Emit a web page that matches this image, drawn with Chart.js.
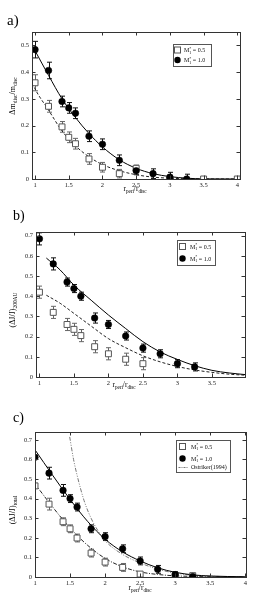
<!DOCTYPE html>
<html>
<head>
<meta charset="utf-8">
<title>Disc mass and angular momentum loss vs pericentre</title>
<script src="https://cdn.jsdelivr.net/npm/chart.js@4.4.1/dist/chart.umd.min.js"></script>
<style>
    html, body { margin: 0; padding: 0; background: #fff; }
    body { width: 277px; height: 609px; position: relative; overflow: hidden; }
    canvas { position: absolute; left: 0; }
</style>
</head>
<body>
<canvas id="chartA" width="277" height="200" style="top:0px"></canvas>
<canvas id="chartB" width="277" height="200" style="top:200px"></canvas>
<canvas id="chartC" width="277" height="209" style="top:400px"></canvas>
<script>
// ---- Data ----
const periX = [1, 1.2, 1.4, 1.5, 1.6, 1.8, 2, 2.25, 2.5, 2.75, 3, 3.25];

// a) disc mass loss
const massHeavyY   = [0.484, 0.406, 0.290, 0.266, 0.246, 0.160, 0.130, 0.070, 0.031, 0.020, 0.007, 0.000];
const massHeavyErr = [0.031, 0.031, 0.020, 0.020, 0.020, 0.020, 0.020, 0.020, 0.015, 0.018, 0.018, 0.018];
const massLightX   = [1, 1.2, 1.4, 1.5, 1.6, 1.8, 2, 2.25, 2.5, 3, 3.5, 4];
const massLightY   = [0.360, 0.272, 0.195, 0.156, 0.132, 0.075, 0.044, 0.020, 0.040, 0.000, 0.000, 0.000];
const massLightErr = [0.030, 0.022, 0.020, 0.020, 0.020, 0.020, 0.018, 0.016, 0.012, 0.008, 0.005, 0.005];
const massFitX        = [1, 1.2, 1.4, 1.6, 1.8, 2, 2.25, 2.5, 2.75, 3, 3.25, 3.5, 4];
const massFitHeavy    = [0.480, 0.388, 0.300, 0.230, 0.170, 0.120, 0.072, 0.040, 0.020, 0.009, 0.003, 0.0005, 0.000];
const massFitLightX   = [0.96, 1, 1.2, 1.4, 1.6, 1.8, 2, 2.25, 2.5, 2.75, 3, 3.5, 4];
const massFitLight    = [0.360, 0.337, 0.258, 0.180, 0.124, 0.083, 0.054, 0.031, 0.016, 0.007, 0.003, 0.000, 0.000];

// b) angular momentum loss inside 200 AU
const j200HeavyY   = [0.684, 0.560, 0.470, 0.438, 0.400, 0.292, 0.260, 0.203, 0.143, 0.115, 0.066, 0.050];
const j200HeavyErr = [0.030, 0.030, 0.020, 0.020, 0.020, 0.025, 0.020, 0.020, 0.020, 0.020, 0.020, 0.020];
const j200LightX   = [1, 1.2, 1.4, 1.5, 1.6, 1.8, 2, 2.25, 2.5];
const j200LightY   = [0.420, 0.320, 0.260, 0.236, 0.205, 0.150, 0.115, 0.088, 0.066];
const j200LightErr = [0.030, 0.030, 0.030, 0.030, 0.030, 0.030, 0.030, 0.030, 0.030];
const j200FitX     = [1.1, 1.3, 1.5, 1.75, 2, 2.25, 2.5, 2.75, 3, 3.25, 3.5, 3.75, 3.98];
const j200FitHeavy = [0.589, 0.530, 0.455, 0.380, 0.307, 0.240, 0.175, 0.124, 0.087, 0.056, 0.033, 0.020, 0.012];
const j200FitLight = [0.405, 0.365, 0.315, 0.252, 0.190, 0.145, 0.105, 0.075, 0.052, 0.035, 0.023, 0.014, 0.009];

// c) total angular momentum loss
const jTotHeavyY   = [0.611, 0.530, 0.442, 0.400, 0.357, 0.246, 0.206, 0.144, 0.082, 0.039, 0.012, 0.002];
const jTotHeavyErr = [0.010, 0.030, 0.030, 0.020, 0.020, 0.020, 0.020, 0.020, 0.020, 0.020, 0.015, 0.010];
const jTotLightX   = [1, 1.2, 1.4, 1.5, 1.6, 1.8, 2, 2.25, 2.5, 3, 3.25];
const jTotLightY   = [0.465, 0.372, 0.282, 0.246, 0.199, 0.122, 0.076, 0.049, 0.015, 0.008, 0.007];
const jTotLightErr = [0.010, 0.030, 0.020, 0.020, 0.020, 0.020, 0.020, 0.020, 0.010, 0.010, 0.010];
const jTotFitX     = [1, 1.25, 1.5, 1.75, 2, 2.25, 2.5, 2.75, 3, 3.25, 3.5, 4];
const jTotFitHeavy = [0.649, 0.520, 0.396, 0.284, 0.193, 0.128, 0.082, 0.047, 0.024, 0.011, 0.005, 0.001];
const jTotFitLight = [0.475, 0.358, 0.250, 0.162, 0.095, 0.052, 0.026, 0.013, 0.006, 0.003, 0.001, 0.000];
const ostrikerX    = [1.495, 1.55, 1.6, 1.7, 1.8, 1.9, 2, 2.25, 2.5, 2.75, 3, 3.25, 3.5, 4];
const ostrikerY    = [0.715, 0.600, 0.520, 0.390, 0.300, 0.235, 0.185, 0.115, 0.072, 0.040, 0.020, 0.009, 0.004, 0.000];

// Tick labels
const xTicksA = [1, 1.5, 2, 2.5, 3, 3.5, 4];
const yTicksA = [0, 0.1, 0.2, 0.3, 0.4, 0.5];
const xTicksB = [1, 1.5, 2, 2.5, 3, 3.5];
const yTicksB = [0, 0.1, 0.2, 0.3, 0.4, 0.5, 0.6, 0.7];
const xTicksC = [1, 1.5, 2, 2.5, 3, 3.5, 4];
const yTicksC = [0, 0.1, 0.2, 0.3, 0.4, 0.5, 0.6, 0.7];

// Labels (text, 'sub'|'sup', 'hold' keeps x for a stacked sub/sup)
const periLabel  = [['r'], ['peri', 'sub'], ['/r'], ['disc', 'sub']];
const massLabel  = [['\u0394m'], ['disc', 'sub'], ['/m'], ['disc', 'sub']];
const j200Label  = [['(\u0394J/J)'], ['200AU', 'sub']];
const jTotLabel  = [['(\u0394J/J)'], ['total', 'sub']];
const lightName  = [['M'], ['1', 'sub', 'hold'], ['*', 'sup'], [' = 0.5']];
const heavyName  = [['M'], ['1', 'sub', 'hold'], ['*', 'sup'], [' = 1.0']];
const ostrikerName = [['Ostriker(1994)']];

const SERIF = '"Liberation Serif", "DejaVu Serif", serif';
const W = 277;

// ---- Text helpers ----
function partFont(size, kind) {
    return (kind ? size * 0.68 : size) + 'px ' + SERIF;
}

function richWidth(ctx, parts, size) {
    let w = 0, held = 0;
    parts.forEach(function(p) {
        ctx.font = partFont(size, p[1]);
        const pw = ctx.measureText(p[0]).width;
        if (p[2] === 'hold') { held = pw; }
        else { w += Math.max(pw, held); held = 0; }
    });
    return w;
}

function drawRich(ctx, parts, x, y, size, align) {
    let cx = align === 'center' ? x - richWidth(ctx, parts, size) / 2 : x;
    let held = 0;
    ctx.textAlign = 'left';
    ctx.textBaseline = 'alphabetic';
    parts.forEach(function(p) {
        ctx.font = partFont(size, p[1]);
        let dy = 0;
        if (p[1] === 'sub') dy = size * 0.28;
        if (p[1] === 'sup') dy = -size * 0.4;
        ctx.fillText(p[0], cx, y + dy);
        const pw = ctx.measureText(p[0]).width;
        if (p[2] === 'hold') { held = pw; }
        else { cx += Math.max(pw, held); held = 0; }
    });
}

// ---- Dataset builders ----
function toPoints(xs, ys) {
    return xs.map(function(x, i) { return { x: x, y: ys[i] }; });
}

function circleSet(xs, ys, errs) {
    return {
        data: toPoints(xs, ys), errs: errs, errColor: '#111',
        pointStyle: 'circle', pointRadius: 3.3, pointHoverRadius: 3.3,
        backgroundColor: '#000', borderColor: '#000', borderWidth: 0.5, showLine: false
    };
}

function squareSet(xs, ys, errs) {
    return {
        data: toPoints(xs, ys), errs: errs, errColor: '#666',
        pointStyle: 'rect', pointRadius: 4.2, pointHoverRadius: 4.2,
        backgroundColor: '#fff', borderColor: '#555', borderWidth: 1, showLine: false
    };
}

function curveSet(xs, ys, color, dash) {
    return {
        data: toPoints(xs, ys), showLine: true, pointRadius: 0, pointHoverRadius: 0,
        borderColor: color, backgroundColor: color, borderWidth: 1, borderDash: dash,
        cubicInterpolationMode: 'monotone', fill: false
    };
}

// ---- Plugins ----
const errorBarPlugin = {
    id: 'errorBars',
    beforeDatasetsDraw: function(chart) {
        const ctx = chart.ctx, a = chart.chartArea, ys = chart.scales.y;
        ctx.save();
        ctx.beginPath();
        ctx.rect(a.left, a.top, a.right - a.left, a.bottom - a.top);
        ctx.clip();
        chart.data.datasets.forEach(function(ds, i) {
            if (!ds.errs) return;
            const meta = chart.getDatasetMeta(i);
            ctx.strokeStyle = ds.errColor;
            ctx.lineWidth = 1;
            meta.data.forEach(function(pt, j) {
                const v = ds.data[j].y, e = ds.errs[j];
                const x = Math.round(pt.x) + 0.5;
                const y1 = ys.getPixelForValue(v + e), y2 = ys.getPixelForValue(v - e);
                ctx.beginPath();
                ctx.moveTo(x, y1); ctx.lineTo(x, y2);
                ctx.moveTo(x - 2.5, y1); ctx.lineTo(x + 2.5, y1);
                ctx.moveTo(x - 2.5, y2); ctx.lineTo(x + 2.5, y2);
                ctx.stroke();
            });
        });
        ctx.restore();
    }
};

const framePlugin = {
    id: 'frame',
    afterDraw: function(chart) {
        const cfg = chart.options.plugins.frame;
        const ctx = chart.ctx, a = chart.chartArea;
        const xs = chart.scales.x, ys = chart.scales.y;
        const tl = 3.5;
        ctx.save();
        ctx.strokeStyle = '#333';
        ctx.lineWidth = 1;
        ctx.strokeRect(Math.round(a.left) + 0.5, Math.round(a.top) + 0.5,
            Math.round(a.right - a.left), Math.round(a.bottom - a.top));
        ctx.beginPath();
        cfg.xTicks.forEach(function(v) {
            const x = Math.round(xs.getPixelForValue(v)) + 0.5;
            ctx.moveTo(x, a.bottom); ctx.lineTo(x, a.bottom - tl);
            ctx.moveTo(x, a.top); ctx.lineTo(x, a.top + tl);
        });
        cfg.yTicks.forEach(function(v) {
            const y = Math.round(ys.getPixelForValue(v)) + 0.5;
            ctx.moveTo(a.left, y); ctx.lineTo(a.left + tl, y);
            ctx.moveTo(a.right, y); ctx.lineTo(a.right - tl, y);
        });
        ctx.stroke();

        // panel tag
        ctx.fillStyle = '#000';
        ctx.font = cfg.tagSize + 'px ' + SERIF;
        ctx.textAlign = 'left';
        ctx.textBaseline = 'alphabetic';
        ctx.fillText(cfg.tag, cfg.tagPos[0], cfg.tagPos[1]);

        // axis titles
        drawRich(ctx, cfg.xLabel, cfg.xLabelPos[0], cfg.xLabelPos[1] + 2.5, 7.5, 'center');
        ctx.save();
        ctx.translate(cfg.yLabelPos[0], cfg.yLabelPos[1]);
        ctx.rotate(-Math.PI / 2);
        drawRich(ctx, cfg.yLabel, 0, 3, 8, 'center');
        ctx.restore();

        // legend box
        const lg = cfg.legend;
        ctx.fillStyle = '#fff';
        ctx.fillRect(lg.box[0], lg.box[1], lg.box[2] - lg.box[0], lg.box[3] - lg.box[1]);
        ctx.strokeStyle = '#555';
        ctx.strokeRect(lg.box[0] + 0.5, lg.box[1] + 0.5, lg.box[2] - lg.box[0], lg.box[3] - lg.box[1]);
        lg.rows.forEach(function(r) {
            const sx = lg.symX, sy = r.y;
            ctx.setLineDash([]);
            if (r.kind === 'square') {
                ctx.fillStyle = '#fff';
                ctx.strokeStyle = '#555';
                ctx.fillRect(sx - 3, sy - 3, 6, 6);
                ctx.strokeRect(sx - 3, sy - 3, 6, 6);
            } else if (r.kind === 'circle') {
                ctx.fillStyle = '#000';
                ctx.beginPath();
                ctx.arc(sx, sy, 3.2, 0, Math.PI * 2);
                ctx.fill();
            } else {
                ctx.strokeStyle = '#777';
                ctx.setLineDash(r.dash);
                ctx.beginPath();
                ctx.moveTo(sx - 4, sy + 0.5); ctx.lineTo(sx + 5, sy + 0.5);
                ctx.stroke();
                ctx.setLineDash([]);
            }
            ctx.fillStyle = '#111';
            drawRich(ctx, r.parts, lg.textX, sy + 2, 6, 'left');
        });
        ctx.restore();
    }
};

// ---- Build one panel ----
function makePanel(cfg) {
    const canvas = document.getElementById(cfg.id);
    const H = canvas.height;
    const area = cfg.area;
    const tickFont = { family: SERIF, size: 6.5 };
    return new Chart(canvas, {
        type: 'scatter',
        data: { datasets: cfg.datasets },
        plugins: [errorBarPlugin, framePlugin],
        options: {
            responsive: false,
            animation: false,
            events: [],
            layout: { padding: { left: 0, top: area.top, right: W - area.right, bottom: 0 } },
            plugins: {
                legend: { display: false },
                tooltip: { enabled: false },
                frame: cfg
            },
            scales: {
                x: {
                    type: 'linear', min: cfg.xMin, max: cfg.xMax,
                    grid: { display: false, drawTicks: false },
                    border: { display: false },
                    ticks: {
                        font: tickFont, color: '#222', padding: 2,
                        maxRotation: 0, autoSkip: false,
                        callback: function(v) { return String(v); }
                    },
                    afterBuildTicks: function(s) { s.ticks = cfg.xTicks.map(function(v) { return { value: v }; }); },
                    afterFit: function(s) { s.height = H - area.bottom; }
                },
                y: {
                    type: 'linear', min: cfg.yMin, max: cfg.yMax,
                    grid: { display: false, drawTicks: false },
                    border: { display: false },
                    ticks: {
                        font: tickFont, color: '#222', padding: 3, autoSkip: false,
                        callback: function(v) { return String(v); }
                    },
                    afterBuildTicks: function(s) { s.ticks = cfg.yTicks.map(function(v) { return { value: v }; }); },
                    afterFit: function(s) { s.width = area.left; }
                }
            }
        }
    });
}

makePanel({
    id: 'chartA', area: { left: 32, top: 32, right: 240, bottom: 179 },
    xMin: 0.955, xMax: 4.04, yMin: 0, yMax: 0.55, xTicks: xTicksA, yTicks: yTicksA,
    tag: 'a)', tagPos: [7, 25], tagSize: 15,
    yLabel: massLabel, yLabelPos: [12, 96], xLabel: periLabel, xLabelPos: [135, 188],
    datasets: [
        circleSet(periX, massHeavyY, massHeavyErr),
        squareSet(massLightX, massLightY, massLightErr),
        curveSet(massFitX, massFitHeavy, '#000', []),
        curveSet(massFitLightX, massFitLight, '#222', [3, 2])
    ],
    legend: {
        box: [173, 44, 211, 66], symX: 177.5, textX: 184,
        rows: [
            { kind: 'square', parts: lightName, y: 50 },
            { kind: 'circle', parts: heavyName, y: 60 }
        ]
    }
});

makePanel({
    id: 'chartB', area: { left: 36, top: 32, right: 245, bottom: 177 },
    xMin: 0.95, xMax: 3.98, yMin: 0, yMax: 0.718, xTicks: xTicksB, yTicks: yTicksB,
    tag: 'b)', tagPos: [13, 20], tagSize: 14,
    yLabel: j200Label, yLabelPos: [12, 110], xLabel: periLabel, xLabelPos: [124, 184],
    datasets: [
        circleSet(periX, j200HeavyY, j200HeavyErr),
        squareSet(j200LightX, j200LightY, j200LightErr),
        curveSet(j200FitX, j200FitHeavy, '#000', []),
        curveSet(j200FitX, j200FitLight, '#222', [3, 2])
    ],
    legend: {
        box: [177, 40, 215, 65], symX: 182.5, textX: 190,
        rows: [
            { kind: 'square', parts: lightName, y: 46.5 },
            { kind: 'circle', parts: heavyName, y: 58.5 }
        ]
    }
});

makePanel({
    id: 'chartC', area: { left: 35, top: 32, right: 246, bottom: 177 },
    xMin: 1, xMax: 4.01, yMin: 0, yMax: 0.74, xTicks: xTicksC, yTicks: yTicksC,
    tag: 'c)', tagPos: [13, 21.5], tagSize: 14,
    yLabel: jTotLabel, yLabelPos: [12, 110], xLabel: periLabel, xLabelPos: [140, 187],
    datasets: [
        circleSet(periX, jTotHeavyY, jTotHeavyErr),
        squareSet(jTotLightX, jTotLightY, jTotLightErr),
        curveSet(jTotFitX, jTotFitHeavy, '#000', []),
        curveSet(jTotFitX, jTotFitLight, '#222', [4, 1.5, 1, 1.5]),
        curveSet(ostrikerX, ostrikerY, '#777', [4, 1.5, 1, 1.5, 1, 1.5])
    ],
    legend: {
        box: [176, 40, 230, 72], symX: 182.5, textX: 191,
        rows: [
            { kind: 'square', parts: lightName, y: 46.5 },
            { kind: 'circle', parts: heavyName, y: 58.5 },
            { kind: 'line', parts: ostrikerName, y: 67, dash: [2, 1, 1, 1] }
        ]
    }
});
</script>
</body>
</html>
